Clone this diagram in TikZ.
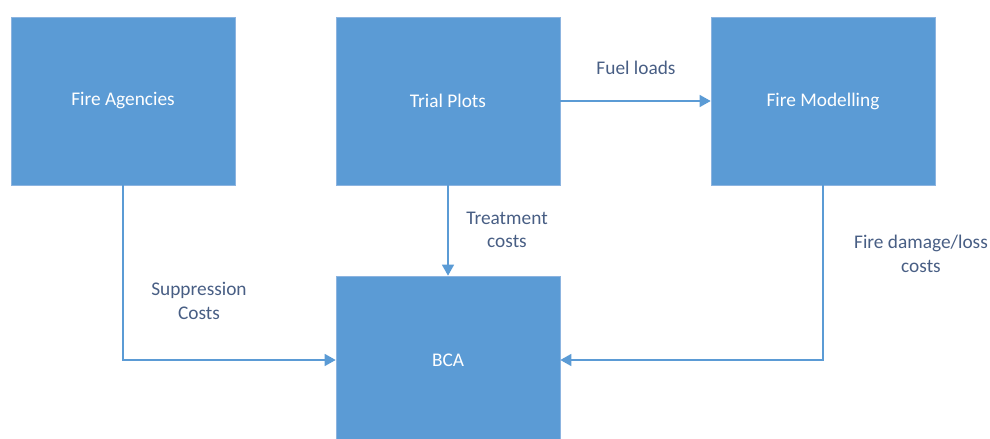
\documentclass[tikz,border=0pt]{standalone}
\usepackage{fontspec}
\setmainfont{Carlito}
\usetikzlibrary{arrows.meta,positioning}
\definecolor{BoxBlue}{RGB}{91, 155, 213}
\definecolor{EdgeBlue}{RGB}{140, 180, 224}
\definecolor{LabelGrey}{RGB}{72, 94, 132}

\tikzset{
  block/.style={fill=BoxBlue, draw=EdgeBlue, line width=0.4pt, text=white,
    minimum width=4.48cm, minimum height=3.36cm, inner sep=0pt},
  flow/.style={draw=BoxBlue, line width=0.8pt, -{Triangle[length=0.22cm, width=0.24cm]}},
  tag/.style={text=LabelGrey, align=center}
}

\begin{document}
\begin{tikzpicture}[x=0.02cm, y=-0.02cm, font=\fontsize{11}{13.4}\selectfont]
    \clip (0,0) rectangle (990,439);
    \useasboundingbox (0,0) rectangle (990,439);

    % Sources
    \node[block] (agencies) at (123,101) {Fire Agencies};
    \node[block] (trial) at (448,101) {Trial Plots};
    \node[block] (modelling) at (823,101) {Fire Modelling};
    % Analysis
    \node[block] (bca) at (448,360) {BCA};

    \draw[flow] (trial.east) -- (modelling.west);
    \draw[flow] (trial.south) -- (bca.north);
    \draw[flow] (agencies.south) |- (bca.west);
    \draw[flow] (modelling.south) |- (bca.east);

    \node[tag] (fuel) at (636,68) {Fuel loads};
    \node[tag] (treatment) at (507,230) {Treatment\\costs};
    \node[tag] (suppression) at (199,301) {Suppression\\Costs};
    \node[tag] (damage) at (921,254) {Fire damage/loss\\costs};
\end{tikzpicture}
\end{document}
